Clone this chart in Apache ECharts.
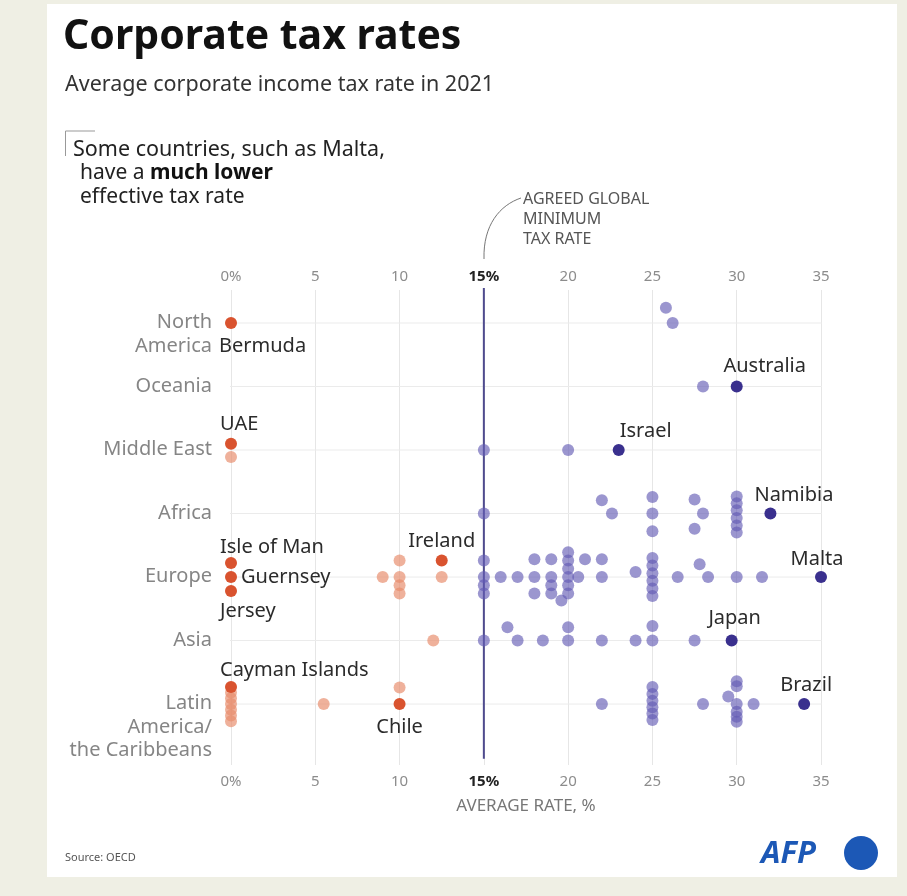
<!DOCTYPE html>
<html>
<head>
<meta charset="utf-8">
<script src="https://cdn.jsdelivr.net/npm/echarts@6/dist/echarts.min.js"></script>
<style>
html,body{margin:0;padding:0;background:#efefe4;}
#chart{width:907px;height:896px;}
</style>
</head>
<body>
<div id="chart"></div>
<script>
// ---------------- DATA ----------------
const regionNames = ['North\nAmerica', 'Oceania', 'Middle East', 'Africa', 'Europe', 'Asia', 'Latin\nAmerica/\nthe Caribbeans'];
const xTicks = [0, 5, 10, 15, 20, 25, 30, 35];
const minimumRate = 15;

// Unnamed countries per region: [average rate %, stack offset within row (+ = up)]
const northAmerica = [[25.8, 0.24], [26.2, 0]];
const oceania = [[28, 0]];
const middleEast = [[0, -0.11], [15, 0], [20, 0]];
const africa = [[15, 0], [22, 0.21], [22.6, 0], [25, 0.26], [25, 0], [25, -0.28], [27.5, 0.22], [28, 0], [27.5, -0.24],
  [30, 0.27], [30, 0.16], [30, 0.05], [30, -0.07], [30, -0.19], [30, -0.3]];
const europe = [[9, 0], [10, 0.26], [10, 0], [10, -0.13], [10, -0.26], [12.5, 0],
  [15, 0.26], [15, 0], [15, -0.13], [15, -0.26], [16, 0], [17, 0], [18, 0.28], [18, 0], [18, -0.26],
  [19, 0.28], [19, 0], [19, -0.13], [19, -0.26], [20, 0.39], [20, 0.26], [20, 0.13], [20, 0], [20, -0.13], [20, -0.26],
  [19.6, -0.37], [20.6, 0], [21, 0.28], [22, 0.28], [22, 0], [24, 0.08],
  [25, 0.3], [25, 0.18], [25, 0.06], [25, -0.06], [25, -0.18], [25, -0.3], [26.5, 0], [27.8, 0.2], [28.3, 0], [30, 0], [31.5, 0]];
const asia = [[12, 0], [15, 0], [16.4, 0.21], [17, 0], [18.5, 0], [20, 0.21], [20, 0], [22, 0], [24, 0], [25, 0.23], [25, 0], [27.5, 0]];
const latinAmerica = [[0, 0.18], [0, 0.09], [0, 0], [0, -0.09], [0, -0.18], [0, -0.27], [5.5, 0], [10, 0.26],
  [22, 0], [25, 0.27], [25, 0.16], [25, 0.05], [25, -0.05], [25, -0.15], [25, -0.25], [28, 0], [29.5, 0.12],
  [30, 0.36], [30, 0.28], [30, 0], [30, -0.12], [30, -0.2], [30, -0.28], [31, 0]];
const regionPoints = [northAmerica, oceania, middleEast, africa, europe, asia, latinAmerica];

// Highlighted (named) countries
const namedCountries = ['Bermuda', 'Australia', 'UAE', 'Israel', 'Namibia', 'Isle of Man', 'Guernsey', 'Jersey', 'Ireland', 'Malta', 'Japan', 'Cayman Islands', 'Chile', 'Brazil'];
const namedRegion = [0, 1, 2, 2, 3, 4, 4, 4, 4, 4, 5, 6, 6, 6];
const namedRate = [0, 30, 0, 23, 32, 0, 0, 0, 12.5, 35, 29.7, 0, 10, 34];
const namedOffset = [0, 0, 0.1, 0, 0, 0.22, 0, -0.22, 0.26, 0, 0, 0.27, 0, 0];

// ---------------- STYLE ----------------
const FONT = "'Noto Sans', 'Open Sans', sans-serif";
const COL_BLUE = 'rgba(98,90,180,0.8)';
const COL_BLUE_DARK = '#3a308e';
const COL_RED = 'rgba(232,140,108,0.85)';
const COL_RED_DARK = '#d9532f';
const DOT = 12;
const labelPlace = {
  'Bermuda': {align: 'left', offset: [-12, 23]},
  'Australia': {align: 'center', offset: [28, -20]},
  'UAE': {align: 'left', offset: [-11, -19]},
  'Israel': {align: 'left', offset: [1, -19]},
  'Namibia': {align: 'left', offset: [-16, -18]},
  'Isle of Man': {align: 'left', offset: [-11, -16]},
  'Guernsey': {align: 'left', offset: [10, 0]},
  'Jersey': {align: 'left', offset: [-11, 20]},
  'Ireland': {align: 'center', offset: [0, -19]},
  'Malta': {align: 'center', offset: [-4, -18]},
  'Japan': {align: 'center', offset: [3, -22]},
  'Cayman Islands': {align: 'left', offset: [-11, -17]},
  'Chile': {align: 'center', offset: [0, 23]},
  'Brazil': {align: 'center', offset: [2, -19]}
};

const Y_MIN = -0.52, Y_MAX = 6.96;

const lowData = [], highData = [];
regionPoints.forEach((pts, r) => {
  pts.forEach(p => {
    const item = [p[0], r - p[1]];
    (p[0] < minimumRate ? lowData : highData).push(item);
  });
});

const namedData = namedCountries.map((n, i) => {
  const pl = labelPlace[n];
  return {
    value: [namedRate[i], namedRegion[i] - namedOffset[i]],
    name: n,
    itemStyle: {color: namedRate[i] < minimumRate ? COL_RED_DARK : COL_BLUE_DARK},
    label: {show: true, formatter: n, position: 'inside', align: pl.align, verticalAlign: 'middle', offset: pl.offset,
      color: '#2b2b2b', fontSize: 20, fontFamily: FONT}
  };
});

const rowLineSeries = regionNames.map((_, r) => ({
  type: 'line', data: [[-0.65, r], [35.5, r]], clip: false, symbol: 'none', silent: true, z: 1,
  lineStyle: {color: '#ebebeb', width: 1}
}));

const axisLabelCfg = {
  color: '#8c8c8c', fontSize: 15, fontFamily: FONT,
  formatter: v => v === 0 ? '0%' : (v === minimumRate ? '{b|' + v + '%}' : String(v)),
  rich: {b: {color: '#222', fontWeight: 'bold', fontSize: 15, fontFamily: FONT}}
};

const chart = echarts.init(document.getElementById('chart'), null, {renderer: 'canvas'});
chart.setOption({
  animation: false,
  backgroundColor: '#efefe4',
  grid: {left: 231, right: 86, top: 290, bottom: 131},
  xAxis: [
    {type: 'value', position: 'bottom', min: xTicks[0], max: xTicks[xTicks.length - 1], interval: 5,
      axisLine: {show: false}, axisTick: {show: false}, axisLabel: Object.assign({margin: 9}, axisLabelCfg),
      splitLine: {show: true, lineStyle: {color: '#e6e6e6', width: 1}}},
    {type: 'value', position: 'top', min: xTicks[0], max: xTicks[xTicks.length - 1], interval: 5,
      axisLine: {show: false}, axisTick: {show: false}, axisLabel: Object.assign({margin: 6}, axisLabelCfg),
      splitLine: {show: false}}
  ],
  yAxis: {type: 'value', min: Y_MIN, max: Y_MAX, inverse: true, show: false},
  graphic: [
    {type: 'rect', shape: {x: 47, y: 4, width: 850, height: 873}, style: {fill: '#ffffff'}, z: -10, silent: true},
    {type: 'text', left: 63, top: 17, style: {text: 'Corporate tax rates', font: "bold 41px 'Noto Sans', sans-serif", fill: '#111'}},
    {type: 'text', left: 65, top: 74, style: {text: 'Average corporate income tax rate in 2021', font: "21.5px 'Noto Sans', sans-serif", fill: '#333'}},
    {type: 'polyline', shape: {points: [[95, 131], [65.5, 131], [65.5, 156]]}, style: {stroke: '#999', lineWidth: 1, fill: null}},
    {type: 'text', left: 73, top: 139, style: {text: 'Some countries, such as Malta,', font: "21.5px 'Noto Sans', sans-serif", fill: '#222'}},
    {type: 'text', left: 80, top: 163, style: {
      text: 'have a {b|much lower}', font: "21px 'Noto Sans', sans-serif", fill: '#222',
      rich: {b: {font: "bold 21px 'Noto Sans', sans-serif", fill: '#111'}}}},
    {type: 'text', left: 80, top: 187, style: {text: 'effective tax rate', font: "21px 'Noto Sans', sans-serif", fill: '#222'}},
    {type: 'text', left: 523, top: 189, style: {text: 'AGREED GLOBAL\nMINIMUM\nTAX RATE', font: "16px 'Noto Sans', sans-serif", lineHeight: 20, fill: '#555'}},
    {type: 'bezierCurve', shape: {x1: 484, y1: 259, x2: 521, y2: 198, cpx1: 483, cpy1: 225, cpx2: 500, cpy2: 205}, style: {stroke: '#777', lineWidth: 1, fill: null}},
    {type: 'text', x: 526, y: 806, style: {text: 'AVERAGE RATE, %', font: "17px 'Noto Sans', sans-serif", fill: '#777', align: 'center', verticalAlign: 'middle'}},
    {type: 'text', left: 65, top: 852, style: {text: 'Source: OECD', font: "11px 'Noto Sans', sans-serif", fill: '#555'}},
    {type: 'text', x: 816, y: 854, style: {text: 'AFP', font: "italic bold 31px 'Noto Sans', sans-serif", fill: '#1c58b6', align: 'right', verticalAlign: 'middle'}},
    {type: 'circle', shape: {cx: 861, cy: 853, r: 17}, style: {fill: '#1c58b6'}}
  ],
  series: rowLineSeries.concat([
    {type: 'line', data: [[minimumRate, -0.55], [minimumRate, 6.86]], clip: false, symbol: 'none', silent: true, z: 2,
      lineStyle: {color: '#4f4b8e', width: 2}},
    {type: 'scatter', data: regionNames.map((n, r) => ({value: [0, r], name: n})), symbolSize: 0, z: 3, silent: true,
      label: {show: true, position: 'inside', formatter: p => p.name, align: 'right', verticalAlign: 'top',
        offset: [-19, -12], lineHeight: 23.5, color: '#666', fontSize: 20, fontFamily: FONT}},
    {type: 'scatter', data: highData, symbolSize: DOT, z: 4, itemStyle: {color: COL_BLUE}},
    {type: 'scatter', data: lowData, symbolSize: DOT, z: 4, itemStyle: {color: COL_RED}},
    {type: 'scatter', data: namedData, symbolSize: DOT, z: 5, itemStyle: {opacity: 1}}
  ])
});
</script>
</body>
</html>
